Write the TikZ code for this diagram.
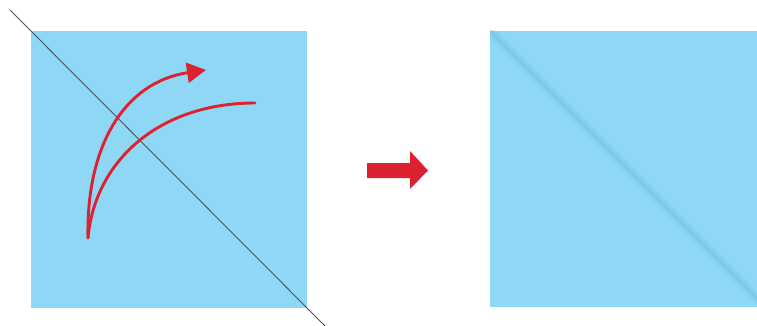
\documentclass[tikz,border=0pt]{standalone}
\usetikzlibrary{arrows.meta}
\definecolor{sqblue}{HTML}{8ED8F5}
\definecolor{crease}{HTML}{6BBCE0}
\definecolor{redarr}{HTML}{DC2230}
\definecolor{diag}{HTML}{46545E}
\begin{document}
\begin{tikzpicture}[x=1pt,y=-1pt,
  redline/.style={draw=redarr,line width=2.9pt,line cap=round},
  square/.style={fill=sqblue,draw=none}]
\useasboundingbox (0,0) rectangle (757,326);
% left square
\coordinate (L1) at (31,31);
\coordinate (L2) at (307,308);
\fill[sqblue] (L1) rectangle (L2);
\coordinate (D1) at (10,10);
\coordinate (D2) at (325,326);
\draw[diag,line width=0.9pt] (D1) -- (D2);
% red curved arrow
\coordinate (T) at (88,238);
\coordinate (H) at (206,70);
\coordinate (E) at (255,103);
\draw[redline,-{Triangle[length=19pt,width=20pt]}] (T) .. controls (86,145) and (125,82) .. (H);
\draw[redline] (T) .. controls (95,160) and (160,103) .. (E);
% middle arrow
\coordinate (M1) at (367,170.5);
\coordinate (M2) at (428,170.5);
\fill[redarr] (367,163) -- (410,163) -- (410,151) -- (M2) -- (410,189) -- (410,178) -- (367,178) -- cycle;
% right square
\coordinate (R1) at (490,31);
\coordinate (R2) at (757,307);
\fill[sqblue] (R1) rectangle (R2);
\begin{scope}
\clip (R1) rectangle (R2);
\draw[crease,opacity=0.12,line width=10pt] (490,31) -- (766,307);
\draw[crease,opacity=0.18,line width=6pt] (490,31) -- (766,307);
\draw[crease,opacity=0.25,line width=3pt] (490,31) -- (766,307);
\end{scope}
\end{tikzpicture}
\end{document}
